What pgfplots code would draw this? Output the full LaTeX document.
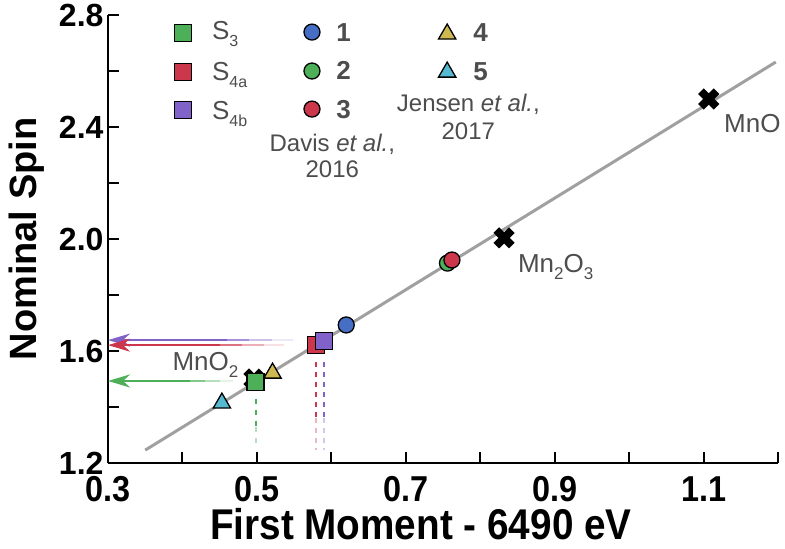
\documentclass[border=0pt]{standalone}
\usepackage{pgfplots}
\pgfplotsset{compat=1.18}
\usepackage{fontspec}
\setmainfont{Liberation Sans}
\newfontfamily\condfont[FakeStretch=0.9]{Liberation Sans}
\usetikzlibrary{arrows.meta}
\definecolor{grn}{RGB}{77,176,88}
\definecolor{rd}{RGB}{204,55,75}
\definecolor{purp}{RGB}{128,98,200}
\definecolor{blu}{RGB}{70,110,196}
\definecolor{yel}{RGB}{205,185,80}
\definecolor{cya}{RGB}{85,185,210}
\definecolor{linegray}{RGB}{160,160,160}
\definecolor{txt}{RGB}{77,77,77}
\tikzset{bigarrow/.style={-{Stealth[length=22pt,width=13pt,inset=7pt]}}}
\begin{document}
\begin{tikzpicture}
\begin{axis}[
  width=670pt, height=448pt, scale only axis,
  xmin=0.3, xmax=1.2, ymin=1.2, ymax=2.8,
  axis lines=left,
  axis line style={-, line width=2pt, black},
  clip=false,
  xtick={0.3,0.4,0.5,0.6,0.7,0.8,0.9,1.0,1.1,1.2},
  xticklabels={0.3,,0.5,,0.7,,0.9,,1.1,},
  ytick={1.2,1.4,1.6,1.8,2.0,2.2,2.4,2.6,2.8},
  yticklabels={1.2,,1.6,,2.0,,2.4,,2.8},
  tick align=inside,
  major tick length=11pt,
  tick style={line width=2pt, black},
  xticklabel style={font=\condfont\bfseries\fontsize{36}{36}\selectfont, yshift=-10pt},
  yticklabel style={font=\bfseries\fontsize{32}{32}\selectfont, xshift=-1pt},
  xlabel={First Moment - 6490 eV},
  ylabel={Nominal Spin},
  every axis x label/.style={at={(axis description cs:0.467,-0.137)}, anchor=center, inner sep=0pt, font=\condfont\bfseries\fontsize{43}{43}\selectfont},
  every axis y label/.style={at={(axis description cs:-0.122,0.5)}, rotate=90, anchor=center, font=\bfseries\fontsize{38}{38}\selectfont},
]
% fit line
\addplot[linegray, line width=3pt] coordinates {(0.35,1.246) (1.197,2.632)};
% arrows (faded tails)
\addplot[purp, line width=2.5pt, opacity=0.15] coordinates {(0.548,1.639) (0.52,1.639)};
\addplot[purp, line width=2.5pt, opacity=0.4] coordinates {(0.52,1.639) (0.49,1.639)};
\addplot[purp, line width=2.5pt, opacity=0.7] coordinates {(0.49,1.639) (0.46,1.639)};
\addplot[purp, line width=2.5pt, bigarrow] coordinates {(0.46,1.639) (0.3,1.639)};
\addplot[rd, line width=2.5pt, opacity=0.15] coordinates {(0.537,1.621) (0.51,1.621)};
\addplot[rd, line width=2.5pt, opacity=0.4] coordinates {(0.51,1.621) (0.48,1.621)};
\addplot[rd, line width=2.5pt, opacity=0.7] coordinates {(0.48,1.621) (0.45,1.621)};
\addplot[rd, line width=2.5pt, bigarrow] coordinates {(0.45,1.621) (0.3,1.621)};
\addplot[grn, line width=2.5pt, opacity=0.15] coordinates {(0.468,1.493) (0.45,1.493)};
\addplot[grn, line width=2.5pt, opacity=0.4] coordinates {(0.45,1.493) (0.43,1.493)};
\addplot[grn, line width=2.5pt, opacity=0.7] coordinates {(0.43,1.493) (0.41,1.493)};
\addplot[grn, line width=2.5pt, bigarrow] coordinates {(0.41,1.493) (0.3,1.493)};
% dashed drop lines
\addplot[grn, line width=2pt, dash pattern=on 5pt off 6pt] coordinates {(0.4985,1.43) (0.4985,1.33)};
\addplot[grn, line width=2pt, dash pattern=on 5pt off 6pt, opacity=0.4] coordinates {(0.4985,1.33) (0.4985,1.27)};
\addplot[rd, line width=2pt, dash pattern=on 5pt off 5pt] coordinates {(0.579,1.56) (0.579,1.36)};
\addplot[rd, line width=2pt, dash pattern=on 5pt off 5pt, opacity=0.35] coordinates {(0.579,1.36) (0.579,1.245)};
\addplot[purp, line width=2pt, dash pattern=on 5pt off 5pt] coordinates {(0.590,1.56) (0.590,1.36)};
\addplot[purp, line width=2pt, dash pattern=on 5pt off 5pt, opacity=0.35] coordinates {(0.590,1.36) (0.590,1.245)};
% reference oxides
\addplot[only marks, mark=x, mark size=11pt, mark options={line width=8pt, black}] coordinates {(1.107,2.50) (0.832,2.004) (0.496,1.50)};
% literature points
\addplot[only marks, mark=triangle*, mark size=10pt, mark options={fill=cya, draw=black, line width=1.3pt}] coordinates {(0.453,1.414) (0.7556,2.596)};
\addplot[only marks, mark=triangle*, mark size=10pt, mark options={fill=yel, draw=black, line width=1.3pt}] coordinates {(0.521,1.521) (0.7556,2.732)};
\addplot[only marks, mark=*, mark size=8pt, mark options={fill=blu, draw=black, line width=1.3pt}] coordinates {(0.62,1.693) (0.574,2.739)};
\addplot[only marks, mark=*, mark size=8pt, mark options={fill=grn, draw=black, line width=1.3pt}] coordinates {(0.756,1.914) (0.574,2.600)};
\addplot[only marks, mark=*, mark size=8pt, mark options={fill=rd, draw=black, line width=1.3pt}] coordinates {(0.762,1.925) (0.574,2.464)};
% this work
\addplot[only marks, mark=square*, mark size=8.5pt, mark options={fill=grn, draw=black, line width=1.3pt}] coordinates {(0.498,1.489) (0.4008,2.736)};
\addplot[only marks, mark=square*, mark size=8.5pt, mark options={fill=rd, draw=black, line width=1.3pt}] coordinates {(0.579,1.621) (0.4008,2.596)};
\addplot[only marks, mark=square*, mark size=8.5pt, mark options={fill=purp, draw=black, line width=1.3pt}] coordinates {(0.590,1.636) (0.4008,2.461)};
% legend text
\node[anchor=base west, text=txt, font=\fontsize{26}{26}\selectfont] at (axis cs:0.435,2.711) {S\raisebox{-7pt}{\fontsize{16}{16}\selectfont 3}};
\node[anchor=base west, text=txt, font=\fontsize{26}{26}\selectfont] at (axis cs:0.435,2.566) {S\raisebox{-7pt}{\fontsize{16}{16}\selectfont 4a}};
\node[anchor=base west, text=txt, font=\fontsize{26}{26}\selectfont] at (axis cs:0.435,2.425) {S\raisebox{-7pt}{\fontsize{16}{16}\selectfont 4b}};
\node[anchor=base west, text=txt, font=\bfseries\fontsize{26}{26}\selectfont] at (axis cs:0.602,2.707) {1};
\node[anchor=base west, text=txt, font=\bfseries\fontsize{26}{26}\selectfont] at (axis cs:0.602,2.568) {2};
\node[anchor=base west, text=txt, font=\bfseries\fontsize{26}{26}\selectfont] at (axis cs:0.602,2.432) {3};
\node[anchor=base west, text=txt, font=\bfseries\fontsize{26}{26}\selectfont] at (axis cs:0.786,2.704) {4};
\node[anchor=base west, text=txt, font=\bfseries\fontsize{26}{26}\selectfont] at (axis cs:0.786,2.566) {5};
\node[anchor=base, text=txt, font=\fontsize{24}{24}\selectfont] at (axis cs:0.6013,2.311) {Davis \textit{et al.},};
\node[anchor=base, text=txt, font=\fontsize{24}{24}\selectfont] at (axis cs:0.6013,2.218) {2016};
\node[anchor=base, text=txt, font=\fontsize{24}{24}\selectfont] at (axis cs:0.784,2.454) {Jensen \textit{et al.},};
\node[anchor=base, text=txt, font=\fontsize{24}{24}\selectfont] at (axis cs:0.784,2.354) {2017};
% oxide labels
\node[anchor=base west, text=txt, font=\fontsize{26}{26}\selectfont] at (axis cs:1.123,2.379) {MnO};
\node[anchor=base west, text=txt, font=\fontsize{26}{26}\selectfont] at (axis cs:0.846,1.879) {Mn\raisebox{-7pt}{\fontsize{17}{17}\selectfont 2}O\raisebox{-7pt}{\fontsize{17}{17}\selectfont 3}};
\node[anchor=base west, text=txt, font=\fontsize{26}{26}\selectfont] at (axis cs:0.382,1.532) {MnO\raisebox{-7pt}{\fontsize{17}{17}\selectfont 2}};
\end{axis}
\pgfresetboundingbox
\path ([shift={(-108pt,-85pt)}]current axis.south west) rectangle ([shift={(7pt,15pt)}]current axis.north east);
\end{tikzpicture}
\end{document}
